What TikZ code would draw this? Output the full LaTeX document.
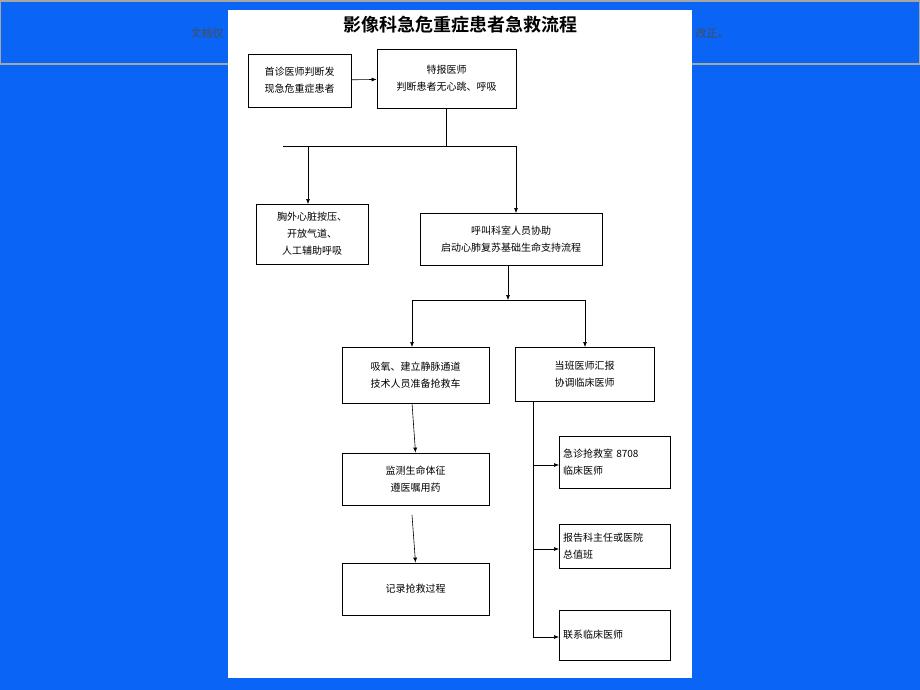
\documentclass[tikz,border=0pt]{standalone}
\usepackage{fontspec}
\setmainfont{Noto Sans CJK SC}
\newfontfamily\cjkb{Noto Sans CJK SC Bold}
\usetikzlibrary{arrows.meta}
\definecolor{bg}{HTML}{0A64F5}
\begin{document}
\begin{tikzpicture}[x=1pt,y=-1pt,
 box/.style={draw,line width=0.8pt,inner sep=0pt,align=center,font=\fontsize{10}{17}\selectfont},
 ar/.style={-{Latex[length=5pt,width=4pt]},line width=0.6pt},
 ln/.style={line width=0.6pt}]
\fill[bg] (0,0) rectangle (920,690);
\useasboundingbox (0,0) rectangle (920,690);
\draw[gray!70,line width=1.5pt] (0,1) rectangle (920,64);
\node[gray!60!black,font=\fontsize{11}{13}\selectfont] at (207,33) {文档仅};
\node[gray!60!black,font=\fontsize{11}{13}\selectfont] at (712,33) {改正。};
\fill[white] (228,10) rectangle (692,678);
\node[font=\cjkb\fontsize{18}{20}\selectfont] (t) at (460,25) {影像科急危重症患者急救流程};
\node[box,minimum width=103,minimum height=53] (a) at (299.5,80.5) {首诊医师判断发\\现急危重症患者};
\node[box,minimum width=139,minimum height=59] (b) at (446.5,78.5) {特报医师\\判断患者无心跳、呼吸};
\node[box,minimum width=112,minimum height=60] (c) at (312,234) {胸外心脏按压、\\开放气道、\\人工辅助呼吸};
\node[box,minimum width=182,minimum height=52] (d) at (511,239) {呼叫科室人员协助\\启动心肺复苏基础生命支持流程};
\node[box,minimum width=147,minimum height=56] (e) at (415.5,375) {吸氧、建立静脉通道\\技术人员准备抢救车};
\node[box,minimum width=139,minimum height=54] (f) at (584.5,374) {当班医师汇报\\协调临床医师};
\node[box,minimum width=147,minimum height=52] (g) at (415.5,479) {监测生命体征\\遵医嘱用药};
\node[box,minimum width=147,minimum height=52] (h) at (415.5,589) {记录抢救过程};
\node[box,minimum width=111,minimum height=52,align=left,text width=103] (i) at (614.5,462) {急诊抢救室 8708\\临床医师};
\node[box,minimum width=111,minimum height=44,align=left,text width=103] (j) at (614.5,546) {报告科主任或医院\\总值班};
\node[box,minimum width=111,minimum height=50,align=left,text width=103] (k) at (614.5,635) {联系临床医师};
\coordinate (s1) at (446,146);
\draw[ar] (a) -- (b);
\draw[ln] (446,108) -- (s1);
\draw[ln] (283,146) -- (516,146);
\draw[ar] (308,146) -- (308,204);
\draw[ar] (516,146) -- (516,213);
\draw[ar] (508,265) -- (508,300);
\draw[ln] (412,300) -- (585,300);
\draw[ar] (412,300) -- (412,347);
\draw[ar] (585,300) -- (585,347);
\draw[ar] (412,403) -- (g.north);
\draw[ar] (412,515) -- (h.north);
\draw[ln] (533,401) -- (533,637);
\draw[ar] (533,465) -- (559,465);
\draw[ar] (533,549) -- (559,549);
\draw[ar] (533,637) -- (559,637);
\end{tikzpicture}
\end{document}
